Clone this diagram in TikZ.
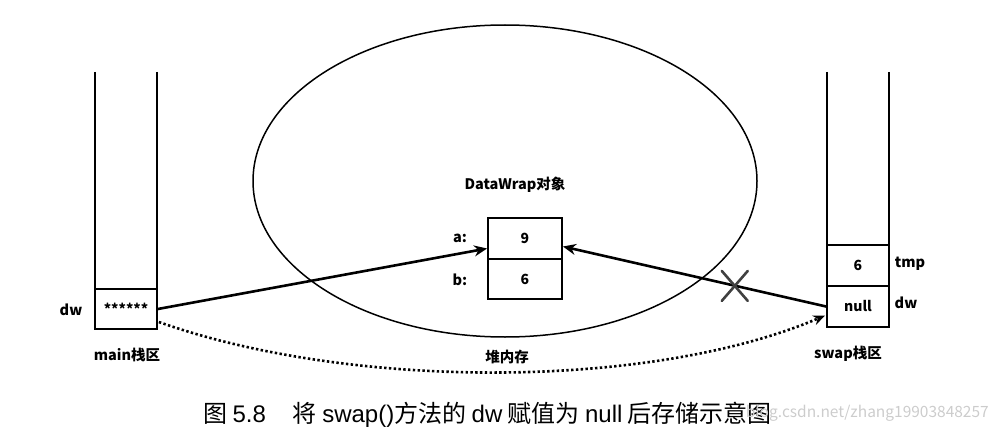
\documentclass[tikz,border=0pt]{standalone}
\usepackage{fontspec}
\setmainfont{Noto Sans CJK SC}
\newfontfamily\latfont{Liberation Sans}
\usetikzlibrary{arrows.meta,shapes.geometric,calc}
\begin{document}
\begin{tikzpicture}[x=1pt,y=-1pt,
  lbl/.style={font=\bfseries\fontsize{14.5}{17}\selectfont, inner sep=0},
  cell/.style={draw, line width=1.8pt, minimum width=62pt, minimum height=40pt, inner sep=0,
               font=\bfseries\fontsize{14}{16}\selectfont},
  stackline/.style={line width=1.8pt},
  ptr/.style={line width=2.6pt, -{Stealth[length=13pt,width=11pt]}},
  dotptr/.style={line width=2.6pt, dash pattern=on 2.4pt off 2.4pt, -{Stealth[length=12pt,width=10pt]}},
  crossline/.style={line width=2.6pt, draw=black!75, line cap=round}
]
\useasboundingbox (0,0) rectangle (997,436);
% heap ellipse
\node (heap) [draw, ellipse, line width=1.5pt, minimum width=504pt, minimum height=312pt, inner sep=0] at (505,181) {};
% main stack
\draw[stackline] (95,72) -- (95,289);
\draw[stackline] (157,72) -- (157,289);
\node (mdw) [cell] at (126,309) {******};
\node (mdwl) [lbl] at (71,310) {dw};
\node (mainl) [lbl] at (127,355) {main栈区};
% swap stack
\draw[stackline] (827,72) -- (827,245);
\draw[stackline] (889,72) -- (889,245);
\node (stmp) [cell, minimum height=41pt] at (858,265.5) {6};
\node (sdw) [cell, minimum height=41pt] at (858,306.5) {null};
\node (tmpl) [lbl] at (910,264) {tmp};
\node (sdwl) [lbl] at (906,303) {dw};
\node (swapl) [lbl] at (848,354) {swap栈区};
% DataWrap object
\node (dwt) [lbl] at (515,185) {DataWrap对象};
\node (a) [cell, minimum width=74pt, minimum height=41pt] at (525,238.5) {9};
\node (b) [cell, minimum width=74pt, minimum height=40pt] at (525,279) {6};
\node (al) [lbl] at (460,238) {a:};
\node (bl) [lbl] at (460,280) {b:};
\node (heapl) [lbl] at (507,357) {堆内存};
% pointers
\draw[ptr] (mdw.east) -- ($(a.west)+(0,10)$);
\draw[ptr] (sdw.west) -- ($(a.east)+(0,8)$);
\coordinate (x) at ($(sdw.west)!0.347!(a.east)$);
\draw[crossline] ($(x)+(-13,-12)$) -- ($(x)+(13,18)$);
\draw[crossline] ($(x)+(-13,18)$) -- ($(x)+(13,-12)$);
\draw[dotptr] ($(mdw.east)+(1,13)$) .. controls (350,390) and (650,390) .. ($(sdw.west)+(-1,9)$);
% caption
\node (cap) [inner sep=0, font=\fontsize{24}{27}\selectfont, anchor=west] at (203,415)
  {图 {\latfont 5.8}\hspace{27pt}将 {\latfont swap()}方法的 {\latfont dw} 赋值为 {\latfont null} 后存储示意图};
\node (wm) [inner sep=0, font=\fontsize{15.5}{18}\selectfont, text=black!20, anchor=east] at (989,413) {blog.csdn.net/zhang19903848257};
\end{tikzpicture}
\end{document}
